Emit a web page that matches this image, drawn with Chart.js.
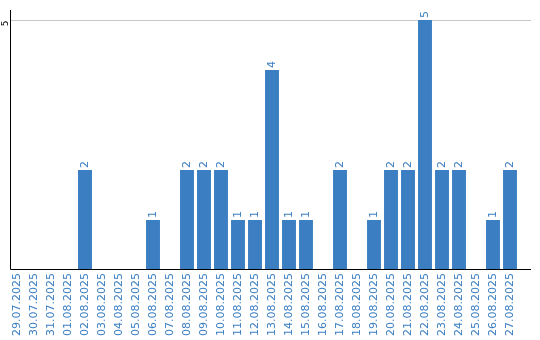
<!DOCTYPE html>
<html>
<head>
<meta charset="utf-8">
<script src="https://cdn.jsdelivr.net/npm/chart.js@4"></script>
<style>
  html, body { margin: 0; padding: 0; background: #fff; }
  #wrap { width: 540px; height: 340px; }
</style>
</head>
<body>
<div id="wrap"><canvas id="chart" width="540" height="340"></canvas></div>
<script>
  const dates = [
    '29.07.2025', '30.07.2025', '31.07.2025', '01.08.2025', '02.08.2025',
    '03.08.2025', '04.08.2025', '05.08.2025', '06.08.2025', '07.08.2025',
    '08.08.2025', '09.08.2025', '10.08.2025', '11.08.2025', '12.08.2025',
    '13.08.2025', '14.08.2025', '15.08.2025', '16.08.2025', '17.08.2025',
    '18.08.2025', '19.08.2025', '20.08.2025', '21.08.2025', '22.08.2025',
    '23.08.2025', '24.08.2025', '25.08.2025', '26.08.2025', '27.08.2025'
  ];
  const counts = [0, 0, 0, 0, 2, 0, 0, 0, 1, 0, 2, 2, 2, 1, 1, 4, 1, 1, 0, 2, 0, 1, 2, 2, 5, 2, 2, 0, 1, 2];
  const yTicks = [5];

  const blue = '#3b7fc2';
  const font = '11px "DejaVu Sans", sans-serif';

  // axes, grid line and value labels drawn by hand
  const decorations = {
    id: 'decorations',
    beforeDatasetsDraw(chart) {
      const { ctx, scales } = chart;
      const y = scales.y;
      const left = 11, right = 531;
      ctx.save();
      ctx.strokeStyle = '#c8c8c8';
      ctx.lineWidth = 1;
      yTicks.forEach((t) => {
        const py = Math.round(y.getPixelForValue(t)) + 0.5;
        ctx.beginPath();
        ctx.moveTo(left, py);
        ctx.lineTo(right, py);
        ctx.stroke();
        ctx.save();
        ctx.translate(1, py + 3);
        ctx.rotate(-Math.PI / 2);
        ctx.fillStyle = '#000';
        ctx.font = '9px "DejaVu Sans", sans-serif';
        ctx.textAlign = 'center';
        ctx.textBaseline = 'top';
        ctx.fillText(String(t), 0, 0);
        ctx.restore();
      });
      ctx.restore();
    },
    afterDatasetsDraw(chart) {
      const { ctx, chartArea } = chart;
      const left = 10.5, right = 531;
      const bottom = Math.round(chartArea.bottom) - 0.5;
      ctx.save();
      ctx.strokeStyle = '#000';
      ctx.lineWidth = 1;
      ctx.beginPath();
      ctx.moveTo(left, chartArea.top);
      ctx.lineTo(left, bottom);
      ctx.lineTo(right, bottom);
      ctx.stroke();

      const meta = chart.getDatasetMeta(0);
      ctx.fillStyle = blue;
      ctx.font = font;
      ctx.textAlign = 'left';
      ctx.textBaseline = 'middle';
      meta.data.forEach((bar, i) => {
        if (!counts[i]) return;
        ctx.save();
        ctx.translate(bar.x, bar.y - 2);
        ctx.rotate(-Math.PI / 2);
        ctx.fillText(String(counts[i]), 0, 0);
        ctx.restore();
      });
      ctx.restore();
    }
  };

  new Chart(document.getElementById('chart'), {
    type: 'bar',
    data: {
      labels: dates,
      datasets: [{
        data: counts,
        backgroundColor: blue,
        borderWidth: 0,
        barPercentage: 0.82,
        categoryPercentage: 1.0,
      }],
    },
    options: {
      responsive: false,
      animation: false,
      layout: { padding: { left: 8.5, right: 21.5, top: 10, bottom: 0 } },
      plugins: { legend: { display: false }, tooltip: { enabled: false } },
      scales: {
        x: {
          grid: { display: false, drawTicks: false },
          border: { display: false },
          afterFit: (scale) => { scale.height = 70; },
          ticks: {
            color: blue,
            font: { family: '"DejaVu Sans", sans-serif', size: 11 },
            minRotation: 90,
            maxRotation: 90,
            autoSkip: false,
            padding: 3,
          },
        },
        y: {
          display: false,
          min: 0,
          max: 5.2,
        },
      },
    },
    plugins: [decorations],
  });
</script>
</body>
</html>
